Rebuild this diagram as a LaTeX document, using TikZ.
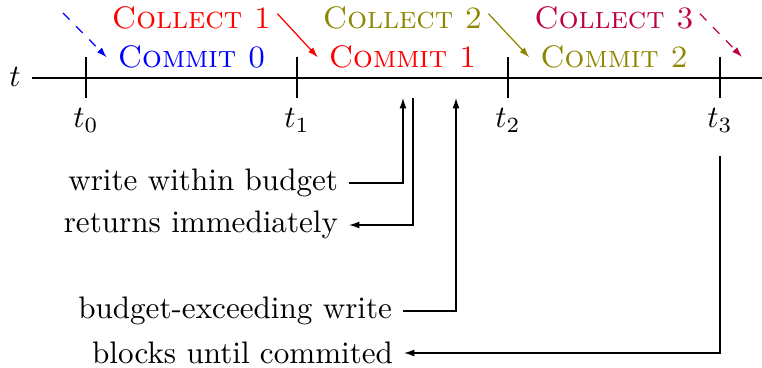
\documentclass[tikz,border=0pt]{standalone}
\usetikzlibrary{arrows.meta}
\begin{document}
\begin{tikzpicture}[x=0.3215pt,y=-0.3215pt,
  tip/.style={-{Latex[length=3.3pt,width=2.2pt]}},
  phase/.style={font=\scshape,anchor=base},
  tlabel/.style={anchor=base},
  note/.style={anchor=east},
]
\useasboundingbox (0,0) rectangle (762,368);
% time axis
\node[tlabel] (t) at (15,87) {$t$};
\coordinate (axisEnd) at (762,78);
\draw (t.east |- axisEnd) -- (axisEnd);
% ticks and labels
\foreach \i/\x in {0/86,1/297,2/508,3/720}{
  \coordinate (k\i a) at (\x,57);
  \coordinate (k\i b) at (\x,98);
  \draw (k\i a) -- (k\i b);
  \node[tlabel] (t\i) at (\x,128) {$t_{\i}$};
}
% phases
\node[phase, blue] (m0) at (191.5,68) {Commit 0};
\node[phase, red] (c1) at (191.5,29) {Collect 1};
\node[phase, red] (m1) at (402.5,68) {Commit 1};
\node[phase, olive] (c2) at (402.5,29) {Collect 2};
\node[phase, olive] (m2) at (614,68) {Commit 2};
\node[phase, purple] (c3) at (614,29) {Collect 3};
\coordinate (c0e) at (63,13);
\coordinate (m3w) at (742,57);
\draw[tip, blue, dashed] (c0e) -- (m0.west);
\draw[tip, red] ([xshift=-1.5pt,yshift=1.5pt]c1.east) -- (m1.west);
\draw[tip, olive] ([xshift=-1.5pt,yshift=1.5pt]c2.east) -- (m2.west);
\draw[tip, purple, dashed] ([xshift=-1.5pt,yshift=1.5pt]c3.east) -- (m3w);
% notes
\node[note] (wwb) at (349,183) {write within budget};
\node[note] (ri) at (349,225) {returns immediately};
\node[note] (bew) at (403,311) {budget-exceeding write};
\node[note] (buc) at (404,353) {blocks until commited};
\coordinate (w1) at (403,98);
\coordinate (r1) at (413,98);
\coordinate (w2) at (456,98);
\draw[tip] (wwb.east) -| (w1);
\draw[tip] (r1) |- (ri.east);
\draw[tip] (bew.east) -| (w2);
\draw[tip] ([yshift=-4pt]t3.south) |- (buc.east);
\end{tikzpicture}
\end{document}
